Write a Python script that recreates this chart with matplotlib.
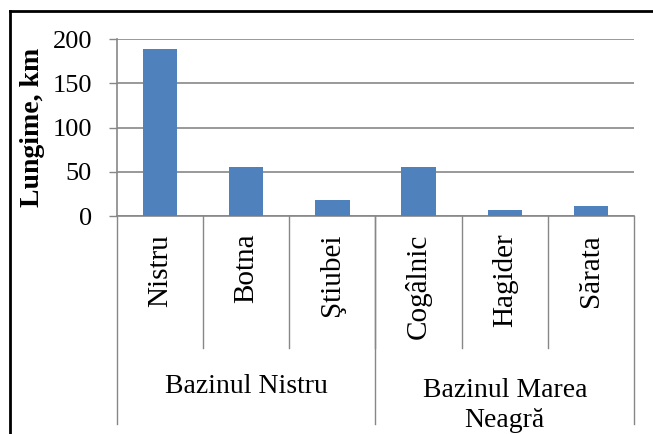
import matplotlib.pyplot as plt
import matplotlib.transforms as mtransforms
from matplotlib.lines import Line2D

# lungimea râurilor (km)
rauri = ['Nistru', 'Botna', 'Ştiubei', 'Cogâlnic', 'Hagider', 'Sărata']
lungime = [189, 56, 18, 55, 7, 12]
bazine = ['Bazinul Nistru', 'Bazinul Marea\nNeagră']
bazin_nr = [3, 3]

plt.rcParams['font.family'] = ['Liberation Serif', 'DejaVu Serif']

fig = plt.figure(figsize=(6.53, 4.34), dpi=100)
ax = fig.add_axes([0.179, 0.502, 0.792, 0.408])

x = [i + 0.5 for i in range(len(rauri))]
ax.bar(x, lungime, width=0.4, color='#4F81BD', zorder=3)

ax.set_xlim(0, len(rauri))
ax.set_ylim(0, 200)
ax.set_yticks([0, 50, 100, 150, 200])
ax.tick_params(axis='y', length=6, width=1, color='#878787', pad=12, labelsize=19)
ax.set_xticks([])
ax.yaxis.grid(True, color='#878787', linewidth=1.2, zorder=0)
for s in ['top', 'right']:
    ax.spines[s].set_visible(False)
for s in ['left', 'bottom']:
    ax.spines[s].set_color('#878787')
    ax.spines[s].set_linewidth(1.2)
ax.set_ylabel('Lungime, km', fontsize=20, fontweight='bold', labelpad=5)

trans = mtransforms.blended_transform_factory(ax.transData, ax.transAxes)

# separatoare între râuri
for i in range(1, len(rauri)):
    ax.plot([i, i], [0, -0.746], transform=trans, color='#878787', lw=1, clip_on=False)

# etichete râuri, rotite
for xi, name in zip(x, rauri):
    ax.text(xi, -0.10, name, transform=trans, rotation=90, ha='center', va='top', fontsize=21)

# separatoare și etichete pentru bazine
start = 0
ax.plot([0, 0], [0, -1.175], transform=trans, color='#878787', lw=1, clip_on=False)
for nume, n in zip(bazine, bazin_nr):
    end = start + n
    ax.plot([end, end], [0, -1.175], transform=trans, color='#878787', lw=1, clip_on=False)
    yt = -0.96 if '\n' not in nume else -1.07
    ax.text((start + end) / 2, yt, nume, transform=trans, ha='center', va='center',
            fontsize=20, linespacing=1.3)
    start = end

# chenarul figurii
fig.add_artist(Line2D([10 / 653, 10 / 653], [0, 1 - 11 / 434], color='black', lw=2))
fig.add_artist(Line2D([10 / 653, 1], [1 - 11 / 434, 1 - 11 / 434], color='black', lw=2))

fig.savefig('out.png', dpi=100)
